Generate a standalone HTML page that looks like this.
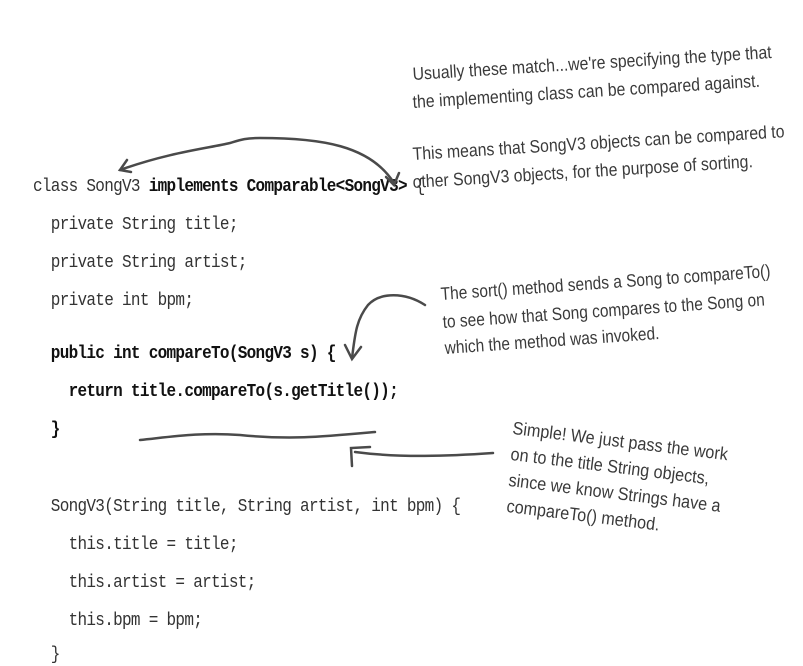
<!DOCTYPE html>
<html><head><meta charset="utf-8"><style>
body{margin:0;background:#fff;width:803px;height:666px;overflow:hidden;position:relative}
.c{position:absolute;left:33px;font-family:"Liberation Mono",monospace;font-size:16px;letter-spacing:-0.7px;color:#333;white-space:pre;transform:scaleY(1.15);transform-origin:left top}
.c b{color:#111}
.h{position:absolute;font-family:"Liberation Sans",sans-serif;font-size:18px;color:#3a3a3a;white-space:nowrap;transform-origin:left top}
</style></head><body>
<div class="c" style="top:176px">class SongV3 <b>implements Comparable&lt;SongV3&gt;</b> {</div>
<div class="c" style="top:214px">  private String title;</div>
<div class="c" style="top:252px">  private String artist;</div>
<div class="c" style="top:290px">  private int bpm;</div>
<div class="c" style="top:343px"><b>  public int compareTo(SongV3 s) {</b></div>
<div class="c" style="top:381px"><b>    return title.compareTo(s.getTitle());</b></div>
<div class="c" style="top:419px"><b>  }</b></div>
<div class="c" style="top:496px">  SongV3(String title, String artist, int bpm) {</div>
<div class="c" style="top:534px">    this.title = title;</div>
<div class="c" style="top:572px">    this.artist = artist;</div>
<div class="c" style="top:610px">    this.bpm = bpm;</div>
<div class="c" style="top:644px">  }</div>

<div class="h" style="left:412px;top:64px;transform:rotate(-3.5deg) scaleX(0.88)">Usually these match...we're specifying the type that</div>
<div class="h" style="left:412px;top:92px;transform:rotate(-3.5deg) scaleX(0.88)">the implementing class can be compared against.</div>
<div class="h" style="left:412px;top:144px;transform:rotate(-3.5deg) scaleX(0.88)">This means that SongV3 objects can be compared to</div>
<div class="h" style="left:412px;top:172px;transform:rotate(-3.5deg) scaleX(0.88)">other SongV3 objects, for the purpose of sorting.</div>
<div class="h" style="left:440px;top:284px;transform:rotate(-4deg) scaleX(0.86)">The sort() method sends a Song to compareTo()</div>
<div class="h" style="left:442px;top:312px;transform:rotate(-4deg) scaleX(0.86)">to see how that Song compares to the Song on</div>
<div class="h" style="left:444px;top:338px;transform:rotate(-4deg) scaleX(0.86)">which the method was invoked.</div>
<div class="h" style="left:514px;top:418px;transform:rotate(7deg) scaleX(0.9)">Simple! We just pass the work</div>
<div class="h" style="left:512px;top:444px;transform:rotate(7deg) scaleX(0.9)">on to the title String objects,</div>
<div class="h" style="left:510px;top:470px;transform:rotate(7deg) scaleX(0.9)">since we know Strings have a</div>
<div class="h" style="left:508px;top:496px;transform:rotate(7deg) scaleX(0.9)">compareTo()  method.</div>

<svg width="803" height="666" style="position:absolute;left:0;top:0" fill="none" stroke="#4a4a4a" stroke-width="2.5" stroke-linecap="round">
<path d="M120,170 C170,152 210,148 230,143 C240,140 245,138 260,138 C320,138 370,145 394,183"/>
<path d="M127,160 L120,170 L131,172"/>
<path d="M386,177 L394,185 L399,173"/>
<path d="M425,305 C405,292 380,292 368,305 C356,320 355,335 352,358"/>
<path d="M345,345 L352,359 L361,347"/>
<path d="M140,440 C170,437 200,432 240,435 C290,440 320,437 375,432"/>
<path d="M493,453 C450,456 400,458 355,452"/>
<path d="M352,466 L351,448 L370,447"/>
</svg>
</body></html>
